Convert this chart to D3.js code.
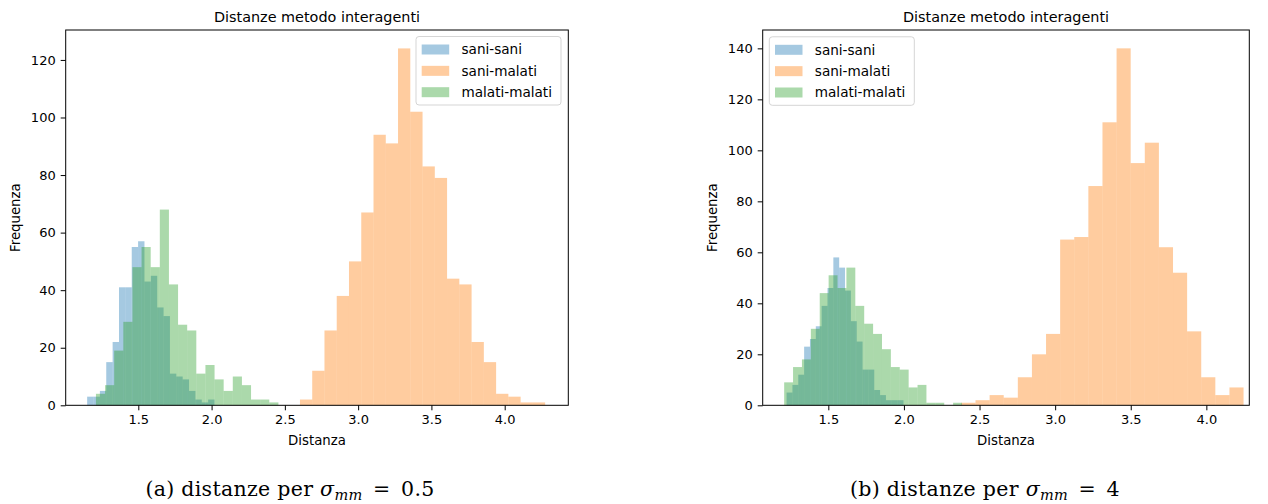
<!DOCTYPE html>
<html><head><meta charset="utf-8">
<script src="https://cdn.jsdelivr.net/npm/d3@7"></script>
<style>
body{margin:0;background:#fff;}
svg{display:block;}
text{font-family:"DejaVu Sans",sans-serif;fill:#000;}
</style>
</head><body>
<svg id="c" width="1268" height="504"></svg>
<script>
// ---------- data ----------
const seriesNames = ["sani-sani", "sani-malati", "malati-malati"];
const seriesColors = ["#1f77b4", "#ff7f0e", "#2ca02c"];

// panel (a): sigma_mm = 0.5  (20 bins per series; range = [first edge, last edge])
const aSaniSaniRange = [1.151, 2.020];
const aSaniSaniCounts = [3, 3, 5, 15, 22, 41, 41, 55, 57, 43, 45, 34, 31, 11, 10, 9, 5, 2, 1, 2];
const aSaniMalatiRange = [2.603, 4.276];
const aSaniMalatiCounts = [2, 12, 26, 38, 50, 67, 94, 91, 124, 102, 83, 79, 44, 42, 22, 15, 4, 3, 1, 1];
const aMalatiMalatiRange = [1.211, 2.456];
const aMalatiMalatiCounts = [4, 7, 19, 29, 48, 55, 48, 68, 42, 28, 26, 11, 14, 9, 5, 10, 7, 2, 2, 1];

// panel (b): sigma_mm = 4
const bSaniSaniRange = [1.224, 1.997];
const bSaniSaniCounts = [5, 8, 12, 23, 26, 31, 39, 46, 58, 54, 45, 33, 25, 14, 14, 6, 4, 2, 2, 2];
const bSaniMalatiRange = [2.380, 4.246];
const bSaniMalatiCounts = [1, 2, 4, 3, 11, 20, 28, 65, 66, 86, 111, 140, 95, 103, 62, 52, 29, 11, 4, 7];
const bMalatiMalatiRange = [1.208, 2.384];
const bMalatiMalatiCounts = [9, 15, 18, 30, 44, 51, 46, 54, 39, 32, 28, 22, 15, 14, 7, 8, 1, 1, 0, 1];

const xTicks = [1.5, 2.0, 2.5, 3.0, 3.5, 4.0];
const aYTicks = [0, 20, 40, 60, 80, 100, 120];
const bYTicks = [0, 20, 40, 60, 80, 100, 120, 140];

const titleText = "Distanze metodo interagenti";
const xLabelText = "Distanza";
const yLabelText = "Frequenza";

// ---------- drawing ----------
const svg = d3.select("#c");

function panel(p) {
  const g = svg.append("g");
  const x = d3.scaleLinear().domain(p.xDomain).range([p.left, p.right]);
  const y = d3.scaleLinear().domain([0, p.yMax]).range([p.bottom, p.top]);

  p.series.forEach((s) => {
    const n = s.counts.length;
    const w = (s.range[1] - s.range[0]) / n;
    g.append("g").selectAll("rect").data(s.counts).join("rect")
      .attr("x", (d, i) => x(s.range[0] + i * w))
      .attr("width", (d, i) => x(s.range[0] + (i + 1) * w) - x(s.range[0] + i * w))
      .attr("y", d => y(d))
      .attr("height", d => y(0) - y(d))
      .attr("fill", s.color)
      .attr("fill-opacity", 0.4);
  });

  // x axis
  const xa = g.append("g").attr("transform", `translate(0,${p.bottom})`)
    .call(d3.axisBottom(x).tickValues(xTicks).tickFormat(d3.format(".1f"))
      .tickSize(5).tickPadding(4.5).tickSizeOuter(0));
  xa.select(".domain").remove();
  xa.selectAll("line").attr("stroke", "#000");
  xa.selectAll("text").style("font-size", "13px").attr("fill", "#000")
    .style("font-family", "'DejaVu Sans',sans-serif");

  // y axis
  const ya = g.append("g").attr("transform", `translate(${p.left},0)`)
    .call(d3.axisLeft(y).tickValues(p.yTicks).tickFormat(d3.format("d"))
      .tickSize(5).tickPadding(5).tickSizeOuter(0));
  ya.select(".domain").remove();
  ya.selectAll("line").attr("stroke", "#000");
  ya.selectAll("text").style("font-size", "13px").attr("fill", "#000")
    .style("font-family", "'DejaVu Sans',sans-serif");

  // spines
  g.append("rect")
    .attr("x", p.left).attr("y", p.top)
    .attr("width", p.right - p.left).attr("height", p.bottom - p.top)
    .attr("fill", "none").attr("stroke", "#000").attr("stroke-width", 1);

  const cx = (p.left + p.right) / 2;
  // title
  g.append("text").attr("x", cx).attr("y", p.top - 8)
    .attr("text-anchor", "middle").style("font-size", "14.4px").text(titleText);
  // x label
  g.append("text").attr("x", cx).attr("y", 445)
    .attr("text-anchor", "middle").style("font-size", "13.3px").text(xLabelText);
  // y label
  g.append("text")
    .attr("transform", `translate(${p.yLabelX},${(p.top + p.bottom) / 2}) rotate(-90)`)
    .attr("text-anchor", "middle").style("font-size", "13.3px").text(yLabelText);

  // legend
  const lg = g.append("g").attr("transform", `translate(${p.legendX},${p.legendY})`);
  lg.append("rect").attr("x", 0).attr("y", 0).attr("width", 145).attr("height", 68.5)
    .attr("rx", 3).attr("fill", "#fff").attr("fill-opacity", 0.8)
    .attr("stroke", "#d5d5d5").attr("stroke-width", 1);
  seriesNames.forEach((name, i) => {
    const cy = 13 + i * 21.35;
    lg.append("rect").attr("x", 5.7).attr("y", cy - 5).attr("width", 27.5).attr("height", 10)
      .attr("fill", seriesColors[i]).attr("fill-opacity", 0.4);
    lg.append("text").attr("x", 45.5).attr("y", cy).attr("dy", "0.36em")
      .style("font-size", "13.6px").text(name);
  });

  // caption
  const cap = svg.append("text").attr("x", p.captionX).attr("y", 496)
    .attr("text-anchor", "middle")
    .style("font-family", "'DejaVu Serif',serif").style("font-size", "20.5px")
    .style("letter-spacing", "0.3px");
  cap.append("tspan").text(p.captionLetter + " distanze per ");
  cap.append("tspan").style("font-style", "italic").text("σ");
  cap.append("tspan").attr("dy", 4).style("font-size", "14.5px").style("font-style", "italic").text("mm");
  cap.append("tspan").attr("dy", -4).text("\u2002=\u2002" + p.captionValue);
}

panel({
  left: 65.7, right: 568.3, top: 30, bottom: 405.3,
  xDomain: [1.0046, 4.434], yMax: 130.4, yTicks: aYTicks,
  series: [
    {range: aSaniSaniRange, counts: aSaniSaniCounts, color: seriesColors[0]},
    {range: aSaniMalatiRange, counts: aSaniMalatiCounts, color: seriesColors[1]},
    {range: aMalatiMalatiRange, counts: aMalatiMalatiCounts, color: seriesColors[2]}
  ],
  yLabelX: 19.5, legendX: 416, legendY: 36.5,
  captionX: 290, captionLetter: "(a)", captionValue: "0.5"
});

panel({
  left: 762.7, right: 1249.3, top: 30, bottom: 405.3,
  xDomain: [1.066, 4.284], yMax: 147.2, yTicks: bYTicks,
  series: [
    {range: bSaniSaniRange, counts: bSaniSaniCounts, color: seriesColors[0]},
    {range: bSaniMalatiRange, counts: bSaniMalatiCounts, color: seriesColors[1]},
    {range: bMalatiMalatiRange, counts: bMalatiMalatiCounts, color: seriesColors[2]}
  ],
  yLabelX: 716.5, legendX: 769.3, legendY: 36.8,
  captionX: 985, captionLetter: "(b)", captionValue: "4"
});
</script>
</body></html>
